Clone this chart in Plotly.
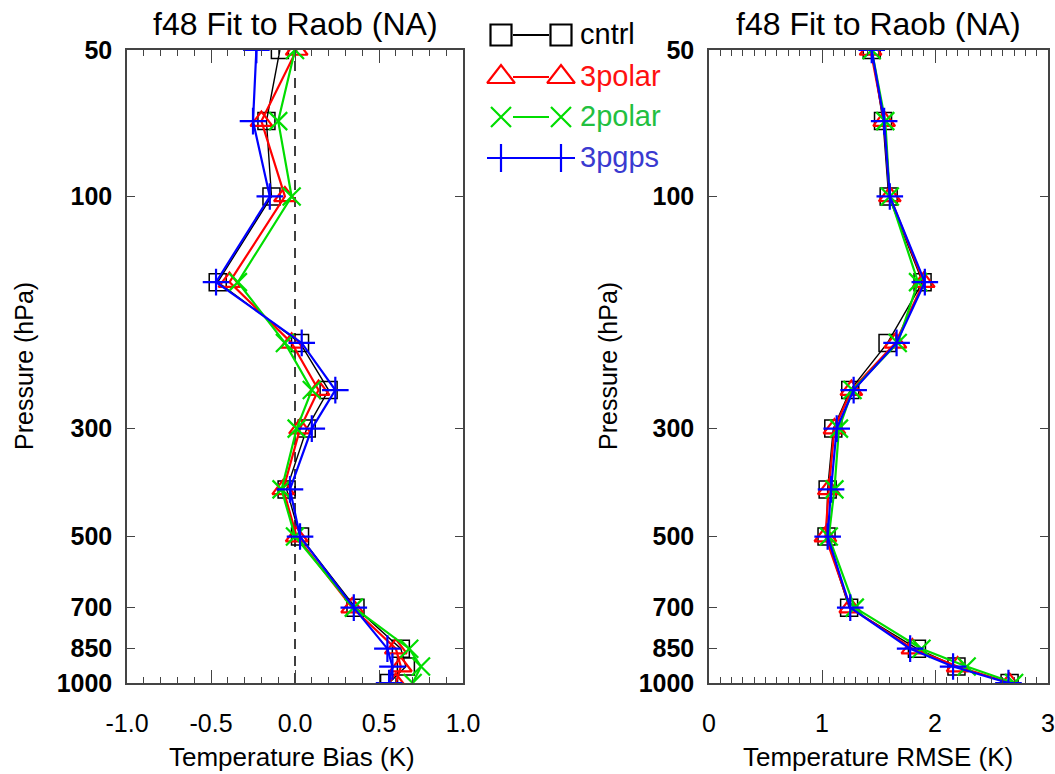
import numpy as np
import plotly.graph_objects as go

# Pressure levels (hPa)
levels = [50, 70, 100, 150, 200, 250, 300, 400, 500, 700, 850, 925, 1000]

# Temperature bias (K) per experiment
bias_cntrl = [-0.09, -0.17, -0.14, -0.46, 0.03, 0.20, 0.07, -0.05, 0.03, 0.36, 0.63, 0.66, 0.56]
bias_3polar = [0.01, -0.20, -0.06, -0.39, -0.02, 0.14, 0.03, -0.07, 0.01, 0.34, 0.60, 0.63, 0.60]
bias_2polar = [0.00, -0.10, -0.02, -0.34, -0.06, 0.10, 0.01, -0.08, 0.00, 0.35, 0.68, 0.75, 0.70]
bias_3pgps = [-0.23, -0.25, -0.15, -0.47, 0.04, 0.24, 0.10, -0.03, 0.03, 0.35, 0.55, 0.58, 0.56]

# Temperature RMSE (K) per experiment
rmse_cntrl = [1.44, 1.54, 1.59, 1.89, 1.58, 1.25, 1.10, 1.05, 1.04, 1.24, 1.84, 2.19, 2.66]
rmse_3polar = [1.43, 1.55, 1.60, 1.90, 1.65, 1.26, 1.11, 1.06, 1.03, 1.25, 1.80, 2.20, 2.66]
rmse_2polar = [1.44, 1.56, 1.60, 1.85, 1.67, 1.27, 1.15, 1.11, 1.06, 1.29, 1.88, 2.28, 2.70]
rmse_3pgps = [1.44, 1.55, 1.60, 1.91, 1.66, 1.28, 1.13, 1.08, 1.05, 1.25, 1.78, 2.16, 2.65]

names = ["cntrl", "3polar", "2polar", "3pgps"]
colors = ["#000000", "#ff0000", "#00dd00", "#0000ff"]
text_colors = ["#000000", "#ff1010", "#22c040", "#3a3ad0"]
symbols = ["square-open", "triangle-up-open", "x-thin-open", "cross-thin-open"]
marker_sizes = [17, 19, 18, 19]
key_sizes = [21, 24, 20, 20]
line_widths = [1.4, 2.2, 2.2, 2.2]

bias_series = [bias_cntrl, bias_3polar, bias_2polar, bias_3pgps]
rmse_series = [rmse_cntrl, rmse_3polar, rmse_2polar, rmse_3pgps]

title_text = "f48 Fit to Raob (NA)"
pres_ticks = [50, 100, 300, 500, 700, 850, 1000]

W, H = 1055, 774
FONT = "Liberation Sans, Arial, sans-serif"
FRAME = "#444444"


def px(x):
    return x / W


def py(y):
    return 1 - y / H


fig = go.Figure()

for i in range(4):
    mk = dict(symbol=symbols[i], size=marker_sizes[i], color=colors[i],
              line=dict(color=colors[i], width=line_widths[i] if i else 1.5))
    fig.add_trace(go.Scatter(x=bias_series[i], y=levels, mode="lines+markers",
                             line=dict(color=colors[i], width=line_widths[i]),
                             marker=mk, xaxis="x", yaxis="y", showlegend=False,
                             cliponaxis=True))
    fig.add_trace(go.Scatter(x=rmse_series[i], y=levels, mode="lines+markers",
                             line=dict(color=colors[i], width=line_widths[i]),
                             marker=mk, xaxis="x2", yaxis="y2", showlegend=False,
                             cliponaxis=True))

# Key: two symbols with a short connecting dash, followed by the coloured name
key_rows = [35, 77, 117, 158]
for i in range(4):
    fig.add_trace(go.Scatter(x=[513, 549], y=[key_rows[i], key_rows[i]], mode="lines",
                             line=dict(color=colors[i], width=2),
                             xaxis="x3", yaxis="y3", showlegend=False, cliponaxis=False))
    fig.add_trace(go.Scatter(x=[501, 561], y=[key_rows[i], key_rows[i]], mode="markers",
                             marker=dict(symbol=symbols[i], size=key_sizes[i],
                                         color=colors[i],
                                         line=dict(color=colors[i], width=2.2)),
                             xaxis="x3", yaxis="y3", showlegend=False, cliponaxis=False))

yaxis_common = dict(
    type="log", range=[3, np.log10(50)], tickvals=pres_ticks,
    ticktext=[str(v) for v in pres_ticks],
    ticks="inside", ticklen=8, tickwidth=1.2, tickcolor=FRAME,
    showline=True, linecolor=FRAME, linewidth=1.5, mirror="ticks",
    showgrid=False, zeroline=False, automargin=False,
    tickfont=dict(family=FONT, size=25, color="#000000", weight="bold"),
    ticklabelstandoff=8,
)
xaxis_common = dict(
    ticks="inside", ticklen=13, tickwidth=1.2, tickcolor=FRAME,
    showline=True, linecolor=FRAME, linewidth=1.5, mirror="ticks",
    showgrid=False, zeroline=False, automargin=False,
    tickfont=dict(family=FONT, size=25, color="#000000"),
    ticklabelstandoff=17,
)
minor_ticks = dict(ticks="inside", ticklen=6, tickwidth=1.2, tickcolor=FRAME,
                   showgrid=False, dtick=0.1, tick0=0)

fig.update_layout(
    width=W, height=H,
    margin=dict(l=0, r=0, t=0, b=0, autoexpand=False),
    paper_bgcolor="white", plot_bgcolor="rgba(0,0,0,0)",
    font=dict(family=FONT, color="#000000"),
    xaxis=dict(domain=[px(127), px(463)], range=[-1, 1],
               tickvals=[-1.0, -0.5, 0.0, 0.5, 1.0],
               ticktext=["-1.0", "-0.5", "0.0", "0.5", "1.0"],
               anchor="y", minor=minor_ticks, **xaxis_common),
    yaxis=dict(domain=[py(683), py(50)], anchor="x", **yaxis_common),
    xaxis2=dict(domain=[px(709), px(1048)], range=[0, 3],
                tickvals=[0, 1, 2, 3], ticktext=["0", "1", "2", "3"],
                anchor="y2", minor=minor_ticks, **xaxis_common),
    yaxis2=dict(domain=[py(683), py(50)], anchor="x2", **yaxis_common),
    xaxis3=dict(domain=[px(480), px(700)], range=[480, 700], visible=False,
                anchor="y3", fixedrange=True, automargin=False),
    yaxis3=dict(domain=[py(180), py(10)], range=[180, 10], visible=False,
                anchor="x3", fixedrange=True, automargin=False),
)

# Zero line of the bias panel
fig.add_shape(type="line", xref="x", yref="y domain", x0=0, x1=0, y0=0, y1=1,
              line=dict(color="#000000", width=1.5, dash="10px,7px"), layer="below")

annotations = []
for cx in (295, 878):
    annotations.append(dict(text=title_text, x=px(cx), y=py(24), xref="paper", yref="paper",
                            showarrow=False, xanchor="center", yanchor="middle",
                            font=dict(family=FONT, size=32, color="#000000")))
for cx in (24, 608):
    annotations.append(dict(text="Pressure (hPa)", x=px(cx), y=py(366), xref="paper",
                            yref="paper", showarrow=False, textangle=-90,
                            xanchor="center", yanchor="middle",
                            font=dict(family=FONT, size=25, color="#000000")))
annotations.append(dict(text="Temperature Bias (K)", x=px(292), y=py(757), xref="paper",
                        yref="paper", showarrow=False, xanchor="center", yanchor="middle",
                        font=dict(family=FONT, size=26, color="#000000")))
annotations.append(dict(text="Temperature RMSE (K)", x=px(878), y=py(757), xref="paper",
                        yref="paper", showarrow=False, xanchor="center", yanchor="middle",
                        font=dict(family=FONT, size=26, color="#000000")))
for i in range(4):
    annotations.append(dict(text=names[i], x=578, y=key_rows[i] - 1, xref="x3", yref="y3",
                            showarrow=False, xanchor="left", yanchor="middle",
                            font=dict(family=FONT, size=29, color=text_colors[i])))
fig.update_layout(annotations=annotations)

fig.write_html("out.html")
